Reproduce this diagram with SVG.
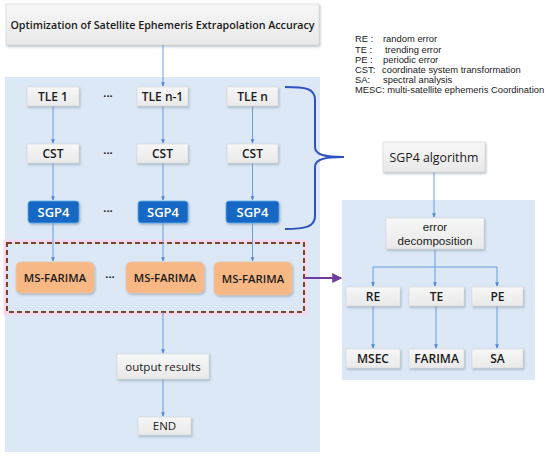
<svg xmlns="http://www.w3.org/2000/svg" width="550" height="456" viewBox="0 0 550 456">
<defs>
<linearGradient id="gg" x1="0" y1="0" x2="0" y2="1"><stop offset="0" stop-color="#f7f7f7"/><stop offset="1" stop-color="#e9e9e9"/></linearGradient>
<filter id="sh" x="-20%" y="-20%" width="150%" height="160%"><feDropShadow dx="1" dy="1.5" stdDeviation="1" flood-color="#7a8a9a" flood-opacity="0.55"/></filter>
<marker id="ar" viewBox="0 0 6 6" refX="5" refY="3" markerWidth="5" markerHeight="5" orient="auto"><path d="M0,0.5 L6,3 L0,5.5 z" fill="#4f86d6"/></marker>
<marker id="ap" viewBox="0 0 8 8" refX="7" refY="4" markerWidth="5" markerHeight="5" orient="auto"><path d="M0,0 L8,4 L0,8 z" fill="#6a3d9e"/></marker>
</defs>
<style>
.panel{fill:#dce8f6}
.g{fill:url(#gg);stroke:#d6d6d6;stroke-width:0.6;filter:url(#sh)}
.b{fill:#1667c4;stroke:#5fb0ef;stroke-width:0.8;filter:url(#sh)}
.o{fill:#f8b886;stroke:#e8c7a8;stroke-width:0.8;filter:url(#sh)}
text{font-family:"Open Sans","Noto Sans","Liberation Sans",sans-serif;fill:#1a1a1a;text-anchor:middle}
.t{font-size:10.7px;font-weight:600}
.w{fill:#ffffff;font-size:13px;font-weight:600}
.m{font-size:12px;font-weight:600}
.f{font-size:11.3px;font-weight:600}
.n{font-size:11.5px;font-weight:500}
.n2{font-size:12.3px;font-weight:500}
.n3{font-family:"Liberation Sans",Arial,sans-serif;font-size:11.6px}
.dots{font-size:11px;font-weight:700}
.lg{font-family:"Liberation Sans",Arial,sans-serif;font-size:9.4px;text-anchor:start;font-weight:400}
.c{stroke:#5a95dc;stroke-width:0.9;fill:none}
.ca{stroke:#5a95dc;stroke-width:0.9;fill:none;marker-end:url(#ar)}
</style>

<rect class="panel" x="5" y="77" width="315" height="375"/>
<rect class="panel" x="342" y="200" width="193" height="180"/>

<g id="title"><rect class="g" x="6" y="4" width="313" height="41"/><text class="t" x="162.5" y="28.5">Optimization of Satellite Ephemeris Extrapolation Accuracy</text></g>

<g id="legend">
<text class="lg" x="355" y="42">RE :</text><text class="lg" x="383" y="42">random error</text>
<text class="lg" x="355" y="52.5">TE :</text><text class="lg" x="385" y="52.5">trending error</text>
<text class="lg" x="355" y="62.5">PE :</text><text class="lg" x="383" y="62.5">periodic error</text>
<text class="lg" x="355" y="73">CST:</text><text class="lg" x="382" y="73">coordinate system transformation</text>
<text class="lg" x="355" y="83">SA:</text><text class="lg" x="383" y="83">spectral analysis</text>
<text class="lg" x="355" y="93">MESC: multi-satellite ephemeris Coordination</text>
</g>

<g id="ms-highlight">
<rect x="7" y="243" width="297" height="69" fill="none" stroke="#f6d8ee" stroke-width="7"/>
<rect x="7" y="243" width="297" height="69" fill="#dce8f6" stroke="#7e4426" stroke-width="2" stroke-dasharray="5 3"/>
</g>

<g id="connectors">
<line class="ca" x1="163" y1="45" x2="163" y2="86"/>
<line class="ca" x1="53" y1="106" x2="53" y2="143"/>
<line class="ca" x1="163" y1="106" x2="163" y2="143"/>
<line class="ca" x1="252.5" y1="106" x2="252.5" y2="143"/>
<line class="ca" x1="53" y1="163" x2="53" y2="200"/>
<line class="ca" x1="163" y1="163" x2="163" y2="200"/>
<line class="ca" x1="252.5" y1="163" x2="252.5" y2="200"/>
<line class="ca" x1="53" y1="223" x2="53" y2="261"/>
<line class="ca" x1="163" y1="223" x2="163" y2="261"/>
<line class="ca" x1="252.5" y1="223" x2="252.5" y2="261"/>
<line class="ca" x1="163" y1="312" x2="163" y2="353"/>
<line class="ca" x1="163" y1="379" x2="163" y2="416"/>
<line class="ca" x1="434" y1="172" x2="434" y2="217"/>
<polyline class="c" points="435,249 435,267"/>
<polyline class="c" points="373,267 497,267"/>
<line class="ca" x1="373" y1="267" x2="373" y2="286"/>
<line class="ca" x1="435" y1="267" x2="435" y2="286"/>
<line class="ca" x1="497" y1="267" x2="497" y2="286"/>
<line class="ca" x1="373" y1="306" x2="373" y2="348"/>
<line class="ca" x1="436" y1="306" x2="436" y2="348"/>
<line class="ca" x1="497" y1="306" x2="497" y2="348"/>
<line x1="304" y1="278" x2="341" y2="278" stroke="#6a3d9e" stroke-width="2" marker-end="url(#ap)"/>
<path d="M285,87 C305,87 315,88 315,100 L315,147 C315,155 325,157 344,157 C325,157 315,159 315,167 L315,216 C315,227 305,229 285,229" fill="none" stroke="#2f52c0" stroke-width="2"/>
</g>

<g id="tle1"><rect class="g" x="27" y="87" width="52" height="19"/><text class="m" x="53" y="101">TLE 1</text></g>
<g id="tlen1"><rect class="g" x="137" y="87" width="51" height="19"/><text class="m" x="162.5" y="101">TLE n-1</text></g>
<g id="tlen"><rect class="g" x="227" y="87" width="51" height="19"/><text class="m" x="252.5" y="101">TLE n</text></g>
<text class="dots" x="108" y="100">···</text>

<g id="cst1"><rect class="g" x="27" y="144" width="52" height="19"/><text class="m" x="53" y="158">CST</text></g>
<g id="cst2"><rect class="g" x="137" y="144" width="51" height="19"/><text class="m" x="162.5" y="158">CST</text></g>
<g id="cst3"><rect class="g" x="227" y="144" width="51" height="19"/><text class="m" x="252.5" y="158">CST</text></g>
<text class="dots" x="108" y="157">···</text>

<g id="sgp41"><rect class="b" x="28" y="201" width="51" height="22" rx="3"/><text class="w" x="53.5" y="217">SGP4</text></g>
<g id="sgp42"><rect class="b" x="138" y="201" width="50" height="22" rx="3"/><text class="w" x="163" y="217">SGP4</text></g>
<g id="sgp43"><rect class="b" x="226" y="201" width="53" height="22" rx="3"/><text class="w" x="252.5" y="217">SGP4</text></g>
<text class="dots" x="108" y="215">···</text>

<g id="ms1"><rect class="o" x="16" y="262" width="78" height="31" rx="5"/><text class="f" x="55" y="282">MS-FARIMA</text></g>
<g id="ms2"><rect class="o" x="126" y="262" width="78" height="31" rx="5"/><text class="f" x="165" y="282">MS-FARIMA</text></g>
<g id="ms3"><rect class="o" x="214" y="262" width="78" height="33" rx="5"/><text class="f" x="253" y="283">MS-FARIMA</text></g>
<text class="dots" x="110" y="281">···</text>

<g id="output"><rect class="g" x="117" y="354" width="92" height="25"/><text class="n" x="163" y="371">output results</text></g>
<g id="end"><rect class="g" x="138" y="417" width="53" height="18"/><text class="n" x="164.5" y="430">END</text></g>

<g id="sgp4alg"><rect class="g" x="383" y="142" width="102" height="30"/><text class="n2" x="434" y="161.5">SGP4 algorithm</text></g>
<g id="errdec"><rect class="g" x="386" y="218" width="98" height="31"/><text class="n3" x="435" y="231">error</text><text class="n3" x="435" y="244.5">decomposition</text></g>
<g id="re"><rect class="g" x="346" y="287" width="54" height="19"/><text class="m" x="373" y="301">RE</text></g>
<g id="te"><rect class="g" x="409" y="287" width="55" height="19"/><text class="m" x="436.5" y="301">TE</text></g>
<g id="pe"><rect class="g" x="472" y="287" width="51" height="19"/><text class="m" x="497.5" y="301">PE</text></g>
<g id="msec"><rect class="g" x="346" y="349" width="54" height="19"/><text class="m" x="373" y="363">MSEC</text></g>
<g id="farima"><rect class="g" x="409" y="349" width="55" height="19"/><text class="m" x="436.5" y="363">FARIMA</text></g>
<g id="sa"><rect class="g" x="472" y="349" width="51" height="19"/><text class="m" x="497.5" y="363">SA</text></g>
</svg>
